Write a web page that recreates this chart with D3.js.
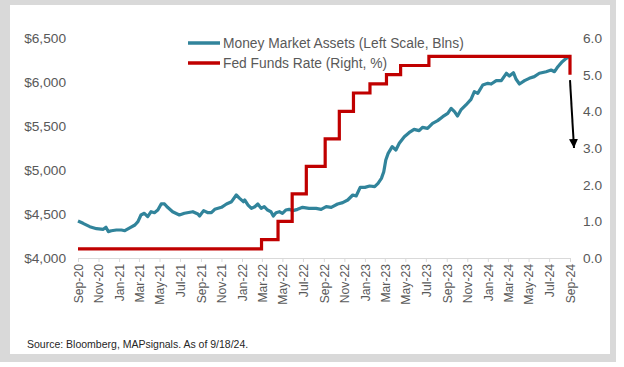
<!DOCTYPE html>
<html>
<head>
<meta charset="utf-8">
<script src="https://cdn.jsdelivr.net/npm/d3@7"></script>
<style>
  body { margin: 0; background: #fff; }
  svg { display: block; font-family: "Liberation Sans", Arial, sans-serif; }
  .axis text { fill: #595959; }
</style>
</head>
<body>
<div class="graph"></div>
<script>
// money market assets, $ blns (weekly-ish readings)
const mmDates = [
  "2020-09-18","2020-10-03","2020-10-23","2020-11-12","2020-12-02","2020-12-10","2020-12-17","2020-12-26",
  "2021-01-10","2021-01-25","2021-02-04","2021-02-20","2021-03-06","2021-03-15","2021-03-24","2021-04-03",
  "2021-04-13","2021-04-23","2021-05-03","2021-05-13","2021-05-23","2021-06-02","2021-06-11","2021-06-26",
  "2021-07-16","2021-07-31","2021-08-25","2021-09-09","2021-09-14","2021-09-26","2021-10-09","2021-10-19",
  "2021-10-29","2021-11-18","2021-12-03","2021-12-18","2022-01-01","2022-01-11","2022-01-22","2022-01-26",
  "2022-02-05","2022-02-15","2022-02-25","2022-03-06","2022-03-16","2022-03-25","2022-04-04","2022-04-14",
  "2022-04-21","2022-04-29","2022-05-09","2022-05-18","2022-05-28","2022-06-07","2022-06-18","2022-07-02",
  "2022-07-17","2022-08-05","2022-08-26","2022-09-10","2022-09-25","2022-10-10","2022-10-29","2022-11-13",
  "2022-11-28","2022-12-13","2022-12-23","2023-01-04","2023-01-18","2023-02-01","2023-02-16","2023-02-26",
  "2023-03-08","2023-03-15","2023-03-21","2023-03-28","2023-04-09","2023-04-20","2023-04-30","2023-05-15",
  "2023-05-29","2023-06-13","2023-06-28","2023-07-08","2023-07-23","2023-08-07","2023-08-22","2023-09-06",
  "2023-09-21","2023-10-01","2023-10-11","2023-10-20","2023-10-30","2023-11-14","2023-11-29","2023-12-09",
  "2023-12-19","2024-01-03","2024-01-18","2024-01-28","2024-02-12","2024-02-27","2024-03-13","2024-03-22",
  "2024-04-03","2024-04-11","2024-04-21","2024-05-06","2024-05-20","2024-06-04","2024-06-19","2024-07-09",
  "2024-07-24","2024-08-03","2024-08-13","2024-08-26","2024-09-07","2024-09-18"
];
const mmValues = [
  4420,4394,4356,4333,4326,4349,4300,4310,
  4318,4318,4310,4345,4375,4413,4489,4508,
  4470,4526,4515,4545,4614,4614,4576,4526,
  4489,4508,4526,4500,4477,4538,4515,4515,
  4553,4576,4614,4640,4716,4678,4640,4659,
  4602,4564,4583,4614,4564,4583,4545,4526,
  4477,4515,4526,4508,4545,4553,4538,4553,
  4576,4564,4564,4553,4583,4576,4614,4629,
  4659,4716,4705,4803,4803,4818,4811,4848,
  4905,4981,5114,5189,5265,5227,5303,5378,
  5424,5462,5447,5485,5473,5530,5561,5606,
  5644,5701,5663,5614,5682,5739,5803,5890,
  5871,5966,5985,5977,6015,6015,6099,6068,
  6106,6031,5977,6015,6042,6061,6099,6117,
  6136,6117,6174,6231,6269,6295
];

// fed funds upper bound, %
const rateDates = ["2020-09-18","2022-03-17","2022-05-05","2022-06-16","2022-07-28","2022-09-22",
                   "2022-11-03","2022-12-15","2023-02-02","2023-03-23","2023-05-04","2023-07-27","2024-09-18"];
const rateValues = [0.25,0.50,1.00,1.75,2.50,3.25,4.00,4.50,4.75,5.00,5.25,5.50,5.00];

const leftTicks = [4000,4500,5000,5500,6000,6500];
const rightTicks = [0,1,2,3,4,5,6];
const legendLabels = ["Money Market Assets (Left Scale, Blns)", "Fed Funds Rate (Right, %)"];
const sourceText = "Source: Bloomberg, MAPsignals. As of 9/18/24.";

const w = 624;
const h = 367;
const blue = "#31849B";
const red = "#C00000";

const parse = d3.timeParse("%Y-%m-%d");
const mm = mmDates.map((d,i)=>({date: parse(d), value: mmValues[i]}));
const rate = rateDates.map((d,i)=>({date: parse(d), value: rateValues[i]}));
const start = parse("2020-09-18");
const end = parse("2024-09-18");
const tickDates = d3.range(0,25).map(i=>d3.timeMonth.offset(start, 2*i));

const xScale = d3.scaleTime().domain([start, end]).range([78, 570]);
const yLeft = d3.scaleLinear().domain([4000, 6500]).range([258, 38]);
const yRight = d3.scaleLinear().domain([0, 6]).range([258, 38]);

const svg = d3.select(".graph").append("svg")
  .attr("width", w).attr("height", h);

// frame
svg.append("rect").attr("x",0).attr("y",0).attr("width",616).attr("height",362).attr("fill","#d9d9d9");
svg.append("rect").attr("x",10).attr("y",5).attr("width",600).attr("height",349).attr("fill","#fff");

const defs = svg.append("defs");
defs.append("marker")
  .attr("id","arrow").attr("markerUnits","userSpaceOnUse")
  .attr("markerWidth",10).attr("markerHeight",10)
  .attr("refX",9).attr("refY",4.5).attr("orient","auto")
  .append("path").attr("d","M0,0 L9,4.5 L0,9 Z").attr("fill","#000");

// axes
svg.append("g").attr("class","axis")
  .attr("transform","translate(78,0)")
  .call(d3.axisLeft(yLeft).tickValues(leftTicks).tickSize(0).tickPadding(12)
        .tickFormat(d=>"$"+d3.format(",")(d)))
  .call(g=>g.select(".domain").remove())
  .selectAll("text").style("font-size","13.7px");

svg.append("g").attr("class","axis")
  .attr("transform","translate(570,0)")
  .call(d3.axisRight(yRight).tickValues(rightTicks).tickSize(0).tickPadding(13)
        .tickFormat(d3.format(".1f")))
  .call(g=>g.select(".domain").remove())
  .selectAll("text").style("font-size","13.7px");

const xAxis = svg.append("g").attr("class","axis")
  .attr("transform","translate(0,258)")
  .call(d3.axisBottom(xScale).tickValues(tickDates).tickSize(4).tickSizeOuter(0)
        .tickFormat(d3.timeFormat("%b-%y")));
xAxis.select(".domain").attr("stroke","#d9d9d9").attr("stroke-width",1);
xAxis.selectAll(".tick line").attr("stroke","#d9d9d9");
xAxis.selectAll("text")
  .attr("transform","rotate(-90)")
  .attr("x",-6).attr("y",0).attr("dy","0.35em")
  .style("text-anchor","end").style("font-size","12.2px");

// series
const mmLine = d3.line().x(d=>xScale(d.date)).y(d=>yLeft(d.value));
svg.append("path").datum(mm)
  .attr("d", mmLine).attr("fill","none")
  .attr("stroke", blue).attr("stroke-width",3.2).attr("stroke-linejoin","round");

const rateLine = d3.line().x(d=>xScale(d.date)).y(d=>yRight(d.value)).curve(d3.curveStepAfter);
svg.append("path").datum(rate)
  .attr("d", rateLine).attr("fill","none")
  .attr("stroke", red).attr("stroke-width",3.2).attr("stroke-linejoin","miter");

// arrow to ~3%
svg.append("line")
  .attr("x1", xScale(end)).attr("y1", yRight(4.85))
  .attr("x2", xScale(end)+4).attr("y2", yRight(3.0))
  .attr("stroke","#000").attr("stroke-width",2)
  .attr("marker-end","url(#arrow)");

// legend
const legend = svg.append("g").attr("transform","translate(188,43)");
[blue, red].forEach((c,i)=>{
  legend.append("line").attr("x1",0).attr("x2",32).attr("y1",i*20).attr("y2",i*20)
    .attr("stroke",c).attr("stroke-width",3.5);
  legend.append("text").attr("x",35).attr("y",i*20).attr("dy","0.35em")
    .attr("fill","#595959").style("font-size","13.8px").text(legendLabels[i]);
});

svg.append("text").attr("x",27).attr("y",348)
  .attr("fill","#262626").style("font-size","10.5px").text(sourceText);
</script>
</body>
</html>
